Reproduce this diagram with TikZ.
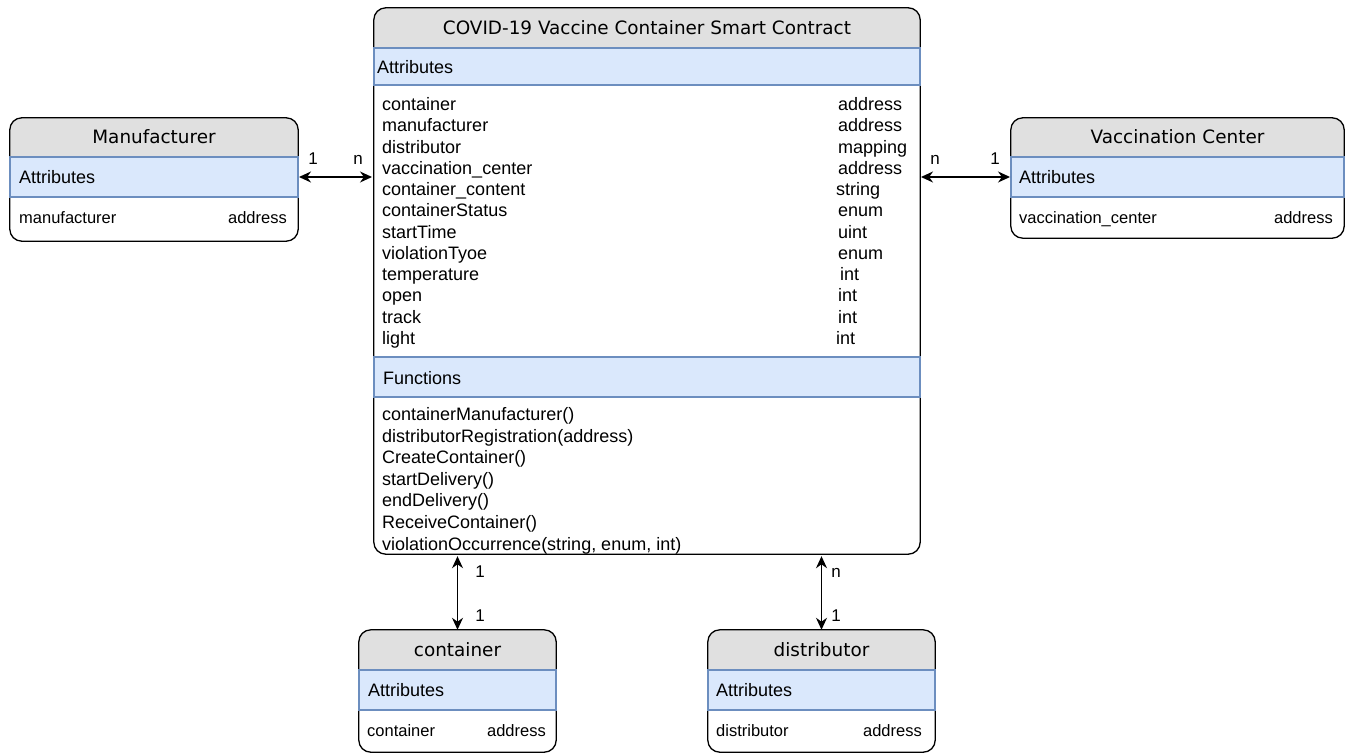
\documentclass[tikz,border=0pt]{standalone}
\usepackage{fontspec}
\setmainfont{Liberation Sans}
\newfontfamily\titlefont{DejaVu Sans}
\usetikzlibrary{arrows.meta}
\definecolor{hdrgray}{HTML}{E0E0E0}
\definecolor{bandblue}{HTML}{DAE8FC}
\definecolor{bandline}{HTML}{6C8EBF}
\newcommand{\clsbox}[6]{%
  \pgfmathsetmacro\cbw{#4-#2}\pgfmathsetmacro\cbh{#5-#3}%
  \node[boxbase, minimum width=\cbw pt, minimum height=\cbh pt] (#1) at ({(#2+#4)/2},{(#3+#5)/2}) {};
  \begin{scope}
    \clip[rounded corners=12pt] (#2,#3) rectangle (#4,#5);
    \fill[hdrgray] (#2,#3) rectangle (#4,#6);
  \end{scope}
  \draw[outline] (#1.north west) rectangle (#1.south east);
}
\begin{document}
\begin{tikzpicture}[x=1pt,y=-1pt,
  boxbase/.style={fill=white, inner sep=0pt, rounded corners=12pt, draw=none},
  outline/.style={draw=black, line width=1.3pt, rounded corners=12pt},
  band/.style={fill=bandblue, draw=bandline, line width=1.1pt},
  ttl/.style={font=\titlefont\fontsize{18.4}{20}\selectfont, inner sep=0pt, anchor=base},
  row/.style={font=\fontsize{18}{20}\selectfont, anchor=base west, inner sep=0pt},
  srow/.style={font=\fontsize{16.5}{18}\selectfont, anchor=base west, inner sep=0pt},
  srowr/.style={srow, anchor=base east},
  card/.style={font=\fontsize{17}{18}\selectfont, inner sep=0pt, anchor=base},
  rel/.style={{Stealth[length=12pt,width=11pt]}-{Stealth[length=12pt,width=11pt]}, line width=1.3pt},
]
\useasboundingbox (0,0) rectangle (1351,754);

% ---------- main contract box ----------
\clsbox{main}{374}{8}{920}{554}{48}
\draw[band] (374,48) rectangle (920,85);
\draw[band] (374,357) rectangle (920,397);
\node[ttl] (mainttl) at (647,34.5) {COVID-19 Vaccine Container Smart Contract};
\node[row] (mainattr) at (377,73.5) {Attributes};
\node[row] (mainfun) at (383,384) {Functions};

\foreach \t/\ty/\tx [count=\i from 0] in {container/address/838, manufacturer/address/838, distributor/mapping/838, vaccination\_center/address/838, container\_content/string/836, containerStatus/enum/838, startTime/uint/838, violationTyoe/enum/838, temperature/int/840, open/int/838, track/int/838, light/int/836}{
  \node[row] (an\i) at (382,{110.5+21.27*\i}) {\t};
  \node[row] (at\i) at (\tx,{110.5+21.27*\i}) {\ty};
}
\foreach \f [count=\i from 0] in {containerManufacturer(), distributorRegistration(address), CreateContainer(), startDelivery(), endDelivery(), ReceiveContainer(), {violationOccurrence(string, enum, int)}}{
  \node[row] (fn\i) at (382,{420.5+21.6*\i}) {\f};
}

% ---------- Manufacturer ----------
\clsbox{man}{10}{118}{298}{241}{157}
\draw[band] (10,157) rectangle (298,197);
\node[ttl] (manttl) at (154,143.5) {Manufacturer};
\node[row] (manattr) at (19,183.5) {Attributes};
\node[srow] (manr) at (19,223) {manufacturer};
\node[srowr] (mant) at (287,223) {address};

% ---------- Vaccination Center ----------
\clsbox{vc}{1011}{118}{1344}{238}{157}
\draw[band] (1011,157) rectangle (1344,197);
\node[ttl] (vcttl) at (1177.5,143.5) {Vaccination Center};
\node[row] (vcattr) at (1019,183.5) {Attributes};
\node[srow] (vcr) at (1019,223) {vaccination\_center};
\node[srowr] (vct) at (1333,223) {address};

% ---------- container ----------
\clsbox{cont}{359}{630}{556}{752}{670}
\draw[band] (359,670) rectangle (556,710);
\node[ttl] (contttl) at (457.5,656.5) {container};
\node[row] (contattr) at (368,696.5) {Attributes};
\node[srow] (contr) at (367,736) {container};
\node[srowr] (contt) at (546,736) {address};

% ---------- distributor ----------
\clsbox{dist}{708}{630}{935}{752}{670}
\draw[band] (708,670) rectangle (935,710);
\node[ttl] (distttl) at (821.5,656.5) {distributor};
\node[row] (distattr) at (716,696.5) {Attributes};
\node[srow] (distr) at (716,736) {distributor};
\node[srowr] (distt) at (922,736) {address};

% ---------- relations ----------
\coordinate (manA) at (299,177);
\coordinate (manB) at (372,177);
\draw[rel] (manA) -- (manB);
\node[card] at (313,165) {1};
\node[card] at (358,165) {n};

\coordinate (vcA) at (921,177);
\coordinate (vcB) at (1010,177);
\draw[rel] (vcA) -- (vcB);
\node[card] at (935,165) {n};
\node[card] at (995,165) {1};

\draw[rel] (cont.north) -- ([yshift=-2pt]cont.north |- main.south);
\node[card] at (480,577) {1};
\node[card] at (480,621) {1};

\draw[rel] (dist.north) -- ([yshift=-2pt]dist.north |- main.south);
\node[card] at (836,577) {n};
\node[card] at (836,621) {1};
\end{tikzpicture}
\end{document}
